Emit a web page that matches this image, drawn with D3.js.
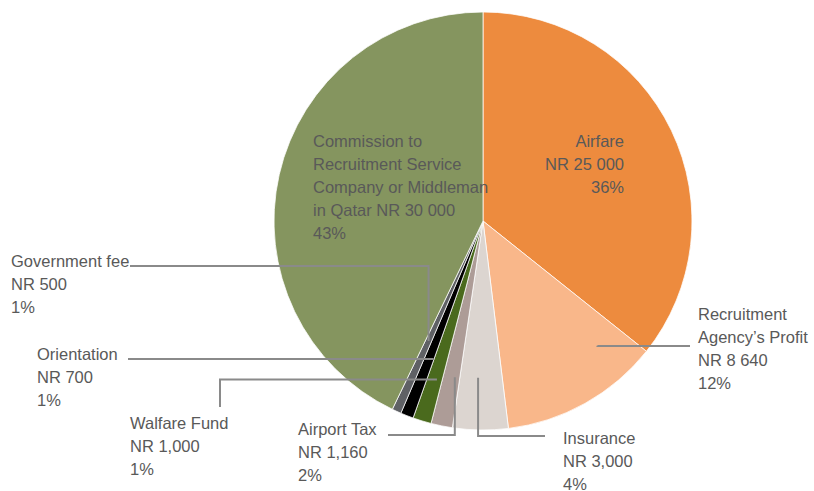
<!DOCTYPE html>
<html>
<head>
<meta charset="utf-8">
<script src="https://cdn.jsdelivr.net/npm/d3@7"></script>
<style>
  body { margin: 0; background: #fff; }
  svg { display: block; font-family: "Liberation Sans", Arial, sans-serif; }
</style>
</head>
<body>
<div id="chart"></div>
<script>

// cost items, clockwise from 12 o'clock
var categories = ["Airfare", "Recruitment Agency's Profit", "Insurance", "Airport Tax",
                  "Walfare Fund", "Orientation", "Government fee",
                  "Commission to Recruitment Service Company or Middleman in Qatar"];
var values = [25000, 8640, 3000, 1160, 1000, 700, 500, 30000];
var labelText = [
  ["Airfare", "NR 25 000"],
  ["Recruitment", "Agency\u2019s Profit", "NR 8 640"],
  ["Insurance", "NR 3,000"],
  ["Airport Tax", "NR 1,160"],
  ["Walfare Fund", "NR 1,000"],
  ["Orientation", "NR 700"],
  ["Government fee", "NR 500"],
  ["Commission to", "Recruitment Service", "Company or Middleman", "in Qatar NR 30 000"]
];
var colors = ["#ed8b3e", "#f9b78a", "#dcd5d0", "#ad9c97", "#4a6a1d", "#000000", "#5f6165", "#85955f"];

var width = 814, height = 491;
var cx = 483, cy = 221, radius = 209;
var line_height = 23;
var font_size = 16.5;

// label placement: first baseline, anchor and leader line (start point, route,
// and where it lands in the slice: fraction along the slice angle, fraction of radius)
var labelLayout = [
  {x: 624, y: 147, anchor: "end"},
  {x: 698, y: 320, anchor: "start", lead: {x: 690, y: 346, route: "h", t: 0.2, r: 0.81}},
  {x: 563, y: 444, anchor: "start", lead: {x: 545, y: 436, route: "h", t: 0.57, r: 0.75}},
  {x: 298, y: 435, anchor: "start", lead: {x: 388, y: 435, route: "h", t: 0.3, r: 0.76}},
  {x: 130, y: 429, anchor: "start", lead: {x: 220, y: 407, route: "v", t: 0.35, r: 0.79}},
  {x: 37,  y: 360, anchor: "start", lead: {x: 128, y: 359, route: "h", t: 0.1, r: 0.70}},
  {x: 11,  y: 267, anchor: "start", lead: {x: 130, y: 266, route: "h", t: 0.5, r: 0.63}},
  {x: 313, y: 147, anchor: "start"}
];

var total = d3.sum(values);
var data = categories.map(function(c, i) {
  return {name: c, value: values[i], color: colors[i], lines: labelText[i], layout: labelLayout[i]};
});

var pie = d3.pie()
            .value(function(d) { return d.value; })
            .sort(null);

var arc = d3.arc()
            .innerRadius(0)
            .outerRadius(radius);

var svg = d3.select("#chart")
            .append("svg")
            .attr("width", width)
            .attr("height", height);

var arcs = pie(data);

svg.append("g")
  .attr("transform", "translate(" + cx + "," + cy + ")")
  .selectAll("path")
  .data(arcs)
  .enter()
    .append("path")
    .attr("d", arc)
    .attr("fill", function(d) { return d.data.color; })
    .attr("stroke", "#fff")
    .attr("stroke-width", 0.75);

// point inside a slice, in page coordinates
function slicePoint(d, t, r) {
  var a = d.startAngle + (d.endAngle - d.startAngle) * t;
  return [cx + Math.sin(a) * radius * r, cy - Math.cos(a) * radius * r];
}

// leader lines
svg.append("g")
  .selectAll("path")
  .data(arcs.filter(function(d) { return d.data.layout.lead; }))
  .enter()
    .append("path")
    .attr("fill", "none")
    .attr("stroke", "#8a8a8a")
    .attr("stroke-width", 2)
    .attr("d", function(d) {
      var L = d.data.layout.lead;
      var p = slicePoint(d, L.t, L.r);
      if (L.route == "v") {
        return "M" + L.x + "," + L.y + "V" + p[1] + "H" + p[0];
      }
      return "M" + L.x + "," + L.y + "H" + p[0] + "V" + p[1];
    });

// labels
var labels = svg.append("g")
  .selectAll("text")
  .data(arcs)
  .enter()
    .append("text")
    .attr("font-size", font_size)
    .attr("fill", "#595959")
    .attr("text-anchor", function(d) { return d.data.layout.anchor; })
    .attr("x", function(d) { return d.data.layout.x; })
    .attr("y", function(d) { return d.data.layout.y; });

labels.selectAll("tspan")
  .data(function(d) {
    var pct = Math.round(d.data.value / total * 100) + "%";
    return d.data.lines.concat([pct]).map(function(s) { return {s: s, x: d.data.layout.x}; });
  })
  .enter()
    .append("tspan")
    .attr("x", function(d) { return d.x; })
    .attr("dy", function(d, i) { return i == 0 ? 0 : line_height; })
    .text(function(d) { return d.s; });

</script>
</body>
</html>
